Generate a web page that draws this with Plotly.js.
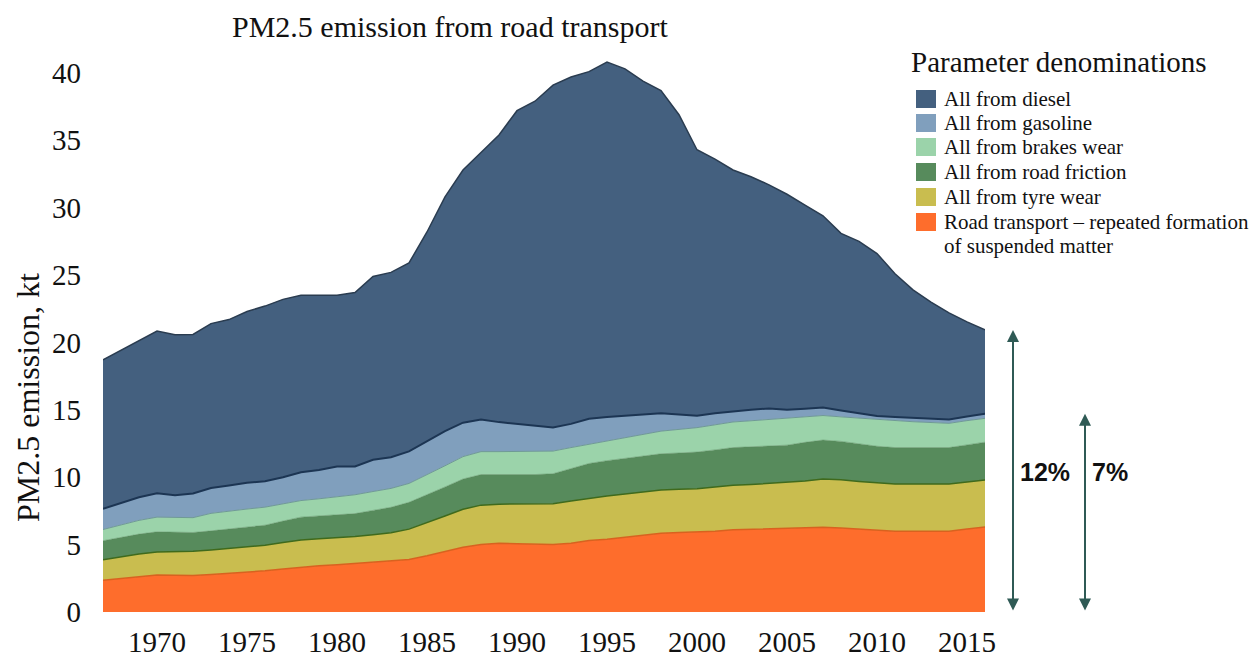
<!DOCTYPE html>
<html><head><meta charset="utf-8">
<script src="https://cdn.plot.ly/plotly-3.0.1.min.js"></script>
<style>html,body{margin:0;padding:0;background:#fff}#chart{width:1255px;height:657px}</style>
</head><body><div id="chart"></div>
<script>
// ---- data (kt of PM2.5) ----
const years = [1967,1968,1969,1970,1971,1972,1973,1974,1975,1976,
               1977,1978,1979,1980,1981,1982,1983,1984,1985,1986,
               1987,1988,1989,1990,1991,1992,1993,1994,1995,1996,
               1997,1998,1999,2000,2001,2002,2003,2004,2005,2006,
               2007,2008,2009,2010,2011,2012,2013,2014,2015,2016];
const roadDust = [2.35,2.5,2.65,2.75,2.72,2.7,2.78,2.87,2.97,3.06,
                  3.2,3.34,3.43,3.5,3.6,3.7,3.8,3.9,4.17,4.5,
                  4.8,5.0,5.1,5.07,5.04,5.0,5.1,5.3,5.4,5.56,
                  5.7,5.85,5.9,5.93,6.0,6.1,6.13,6.16,6.2,6.24,
                  6.29,6.23,6.14,6.05,6.0,6.0,6.0,6.0,6.15,6.3];
const tyreWear = [1.52,1.59,1.65,1.7,1.75,1.8,1.82,1.85,1.86,1.89,
                  1.95,2.0,2.0,2.01,2.0,2.04,2.08,2.25,2.45,2.62,
                  2.82,2.93,2.9,2.93,2.96,3.03,3.14,3.15,3.21,3.2,
                  3.2,3.2,3.2,3.22,3.27,3.3,3.33,3.37,3.4,3.48,
                  3.58,3.58,3.55,3.52,3.5,3.5,3.5,3.5,3.5,3.5];
const roadFriction = [1.42,1.44,1.48,1.5,1.45,1.4,1.42,1.45,1.47,1.49,
                      1.6,1.7,1.7,1.7,1.7,1.8,1.89,1.99,2.07,2.16,
                      2.25,2.27,2.2,2.2,2.2,2.23,2.4,2.57,2.62,2.64,
                      2.67,2.69,2.7,2.72,2.76,2.8,2.8,2.8,2.78,2.87,
                      2.89,2.85,2.79,2.73,2.7,2.7,2.7,2.7,2.75,2.8];
const brakesWear = [0.83,0.93,1.02,1.09,1.1,1.1,1.3,1.33,1.34,1.34,
                    1.25,1.23,1.27,1.34,1.4,1.4,1.4,1.4,1.48,1.57,
                    1.66,1.7,1.7,1.7,1.7,1.68,1.56,1.42,1.47,1.54,
                    1.61,1.68,1.75,1.81,1.86,1.9,1.93,1.96,2.0,1.89,
                    1.82,1.82,1.91,1.97,1.97,1.92,1.86,1.8,1.8,1.77];
const gasoline = [1.53,1.63,1.72,1.77,1.65,1.79,1.88,1.88,1.95,1.92,
                  2.0,2.1,2.13,2.25,2.1,2.36,2.31,2.38,2.53,2.57,
                  2.52,2.38,2.19,2.07,1.92,1.76,1.76,1.9,1.77,1.62,
                  1.46,1.33,1.11,0.89,0.85,0.8,0.82,0.81,0.63,0.6,
                  0.59,0.48,0.36,0.27,0.3,0.29,0.29,0.29,0.31,0.34];
const diesel = [11.06,11.34,11.63,12.04,11.9,11.81,12.2,12.32,12.71,13.0,
                13.2,13.13,12.97,12.7,12.9,13.6,13.72,13.98,15.5,17.38,
                18.75,19.82,21.31,23.23,24.08,25.4,25.74,25.76,26.33,25.74,
                24.76,23.95,22.24,19.73,18.86,17.9,17.29,16.6,15.99,15.12,
                14.23,13.14,12.75,12.06,10.63,9.49,8.65,7.91,7.02,6.22];

// stacking order: bottom -> top
const seriesNames = ['Road transport – repeated formation<br>of suspended matter',
                     'All from tyre wear','All from road friction',
                     'All from brakes wear','All from gasoline','All from diesel'];
const seriesValues = [roadDust, tyreWear, roadFriction, brakesWear, gasoline, diesel];
const fillColors = ['#fe6d2c','#c9bd4f','#578b5c','#9bd3aa','#809fbd','#44607f'];
const lineColors = ['#d8621f','#3f6a1c','#578b5c','#6f9a95','#1c3553','#2a3c50'];
const lineWidths = [1.5,1.5,0.5,1,2,1.5];

const tickYears = [1970,1975,1980,1985,1990,1995,2000,2005,2010,2015];
const yTicks = [0,5,10,15,20,25,30,35,40];
const chartTitle = 'PM2.5 emission from road transport';
const yTitle = 'PM2.5 emission, kt';
const legendTitle = 'Parameter denominations';
const shareLabels = ['12%','7%'];

// ---- geometry helpers (pixel -> paper) ----
const W = 1255, H = 657;
const M = {l:103, r:270, t:46, b:45};
const PW = W - M.l - M.r, PH = H - M.t - M.b;
const px = x => (x - M.l) / PW;
const py = y => (H - M.b - y) / PH;

const serif = 'Liberation Serif, Times New Roman, serif';

const traces = seriesValues.map((vals, i) => ({
  x: years, y: vals, name: seriesNames[i].replace('<br>', ' '),
  type: 'scatter', mode: 'lines', stackgroup: 'one',
  fillcolor: fillColors[i],
  line: {color: lineColors[i], width: lineWidths[i], shape: 'linear'},
  showlegend: false, hoverinfo: 'x+y+name'
}));

// totals for the share arrows (computed from the data)
const last = years.length - 1;
const totalLast = seriesValues.reduce((s, v) => s + v[last], 0);
const nonDieselLast = totalLast - diesel[last];

const annotations = [];
const shapes = [];

// y-axis title
annotations.push({xref:'paper', yref:'paper', x: px(28), y: py(398), xanchor:'center', yanchor:'middle',
  textangle:-90, text: yTitle, showarrow:false, font:{family:serif, size:32, color:'#111'}});

// custom legend (top = diesel)
annotations.push({xref:'paper', yref:'paper', x: px(909), y: py(62), xanchor:'left', yanchor:'middle',
  text: legendTitle, showarrow:false, font:{family:serif, size:29, color:'#111'}});
const legendRows = [99,123,147,172,197,222];
const lineStep = 24;
for (let k = 0; k < seriesNames.length; k++) {
  const i = seriesNames.length - 1 - k;
  const yc = legendRows[k];
  shapes.push({type:'rect', xref:'paper', yref:'paper', x0: px(916), x1: px(936), y0: py(yc+9), y1: py(yc-9),
    fillcolor: fillColors[i], line:{width:0}, layer:'above'});
  seriesNames[i].split('<br>').forEach((part, n) => {
    annotations.push({xref:'paper', yref:'paper', x: px(942), y: py(yc + n*lineStep),
      xanchor:'left', yanchor:'middle', align:'left',
      text: part, showarrow:false, font:{family:serif, size:21, color:'#111'}});
  });
}

// share arrows
const arrowTops = [totalLast, nonDieselLast];
const arrowX = [1013, 1085];
const labelX = [1045, 1110];
for (let j = 0; j < 2; j++) {
  annotations.push({xref:'paper', yref:'y', x: px(arrowX[j]), y: arrowTops[j],
    axref:'pixel', ayref:'y', ax:0, ay:0, text:'', showarrow:true,
    arrowside:'end+start', arrowhead:2, startarrowhead:2, arrowsize:1.2, startarrowsize:1.2,
    arrowwidth:2, arrowcolor:'#2f5a55'});
  annotations.push({xref:'paper', yref:'y', x: px(labelX[j]), y: 10.4, xanchor:'center', yanchor:'middle',
    text:'<b>' + shareLabels[j] + '</b>', showarrow:false,
    font:{family:'Liberation Sans, Arial, sans-serif', size:25, color:'#111'}});
}

const layout = {
  width: W, height: H, margin: M,
  paper_bgcolor:'#fff', plot_bgcolor:'#fff',
  title: {text: chartTitle, xref:'container', yref:'container', x: 232/W, xanchor:'left',
          y: 1 - 26/H, yanchor:'middle', font:{family:serif, size:30, color:'#111'}},
  xaxis: {range:[1967, 2016], tickvals: tickYears, ticktext: tickYears.map(String),
          showgrid:false, zeroline:false, showline:false, ticks:'', ticklabelstandoff:10,
          tickfont:{family:serif, size:29, color:'#111'}},
  yaxis: {range:[0, 42], tickvals: yTicks, showgrid:false, zeroline:false, showline:false,
          ticks:'', ticklabelstandoff:21,
          tickfont:{family:serif, size:29, color:'#111'}},
  annotations, shapes, showlegend:false
};

Plotly.newPlot('chart', traces, layout, {displayModeBar:false, staticPlot:true});
</script>
</body></html>
